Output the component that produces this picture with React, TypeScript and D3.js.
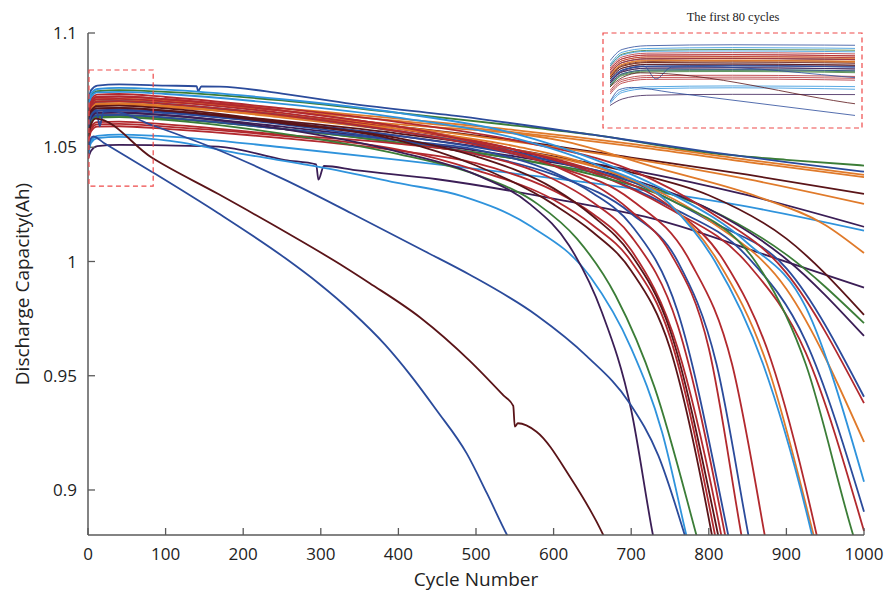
import { useEffect, useRef } from 'react'
import * as d3 from 'd3'

type Pt = [number, number]

const X_DOMAIN = [0, 1000]
const Y_DOMAIN = [0.8803, 1.1]
const X_TICKS = [0, 100, 200, 300, 400, 500, 600, 700, 800, 900, 1000]
const Y_TICKS = [0.9, 0.95, 1, 1.05, 1.1]
const Y_TICK_LABELS = ['0.9', '0.95', '1', '1.05', '1.1']
const X_TITLE = 'Cycle Number'
const Y_TITLE = 'Discharge Capacity(Ah)'

// zoomed window shown in the inset
const INSET_CYCLES = [0, 80]
const INSET_BOX_CYCLES = [0, 84]
const INSET_VALUES = [1.033, 1.0838]
const INSET_TITLE = 'The first 80 cycles'

const PALETTE: Record<string, string> = {
  navy: '#2b4b9b',
  lblue: '#2f93dc',
  green: '#3b7d37',
  orange: '#e07a2a',
  red: '#b2292e',
  maroon: '#5a1418',
  purple: '#3b1e56',
}

// [cycle, capacity], one list per cell
const CURVES: Pt[][] = [
  // long-lived cells
  [[0, 1.066], [4, 1.0725], [12, 1.0745], [40, 1.075], [100, 1.0742], [250, 1.0705], [400, 1.065], [550, 1.0595], [650, 1.0555], [800, 1.0475], [900, 1.0445], [1000, 1.042]],
  [[0, 1.069], [4, 1.075], [12, 1.077], [40, 1.0775], [100, 1.077], [140, 1.0767], [142, 1.0745], [146, 1.0766], [170, 1.0765], [250, 1.0735], [340, 1.069], [480, 1.0635], [650, 1.0555], [800, 1.048], [900, 1.0435], [1000, 1.0393]],
  [[0, 1.062], [4, 1.069], [12, 1.071], [40, 1.0712], [100, 1.0705], [250, 1.067], [400, 1.0625], [550, 1.0575], [700, 1.0515], [850, 1.0445], [1000, 1.0379]],
  [[0, 1.061], [4, 1.068], [12, 1.0702], [40, 1.0705], [100, 1.0698], [250, 1.066], [400, 1.0615], [550, 1.0565], [700, 1.0505], [850, 1.0435], [1000, 1.0369]],
  [[0, 1.06], [4, 1.0665], [12, 1.0685], [40, 1.069], [100, 1.068], [250, 1.064], [400, 1.059], [550, 1.053], [700, 1.0455], [850, 1.038], [1000, 1.0296]],
  [[0, 1.061], [4, 1.067], [12, 1.0695], [40, 1.07], [100, 1.0688], [250, 1.0645], [400, 1.059], [550, 1.0525], [700, 1.045], [850, 1.036], [1000, 1.0252]],
  [[0, 1.057], [4, 1.0635], [12, 1.066], [40, 1.0665], [100, 1.0655], [250, 1.061], [400, 1.055], [550, 1.048], [700, 1.04], [850, 1.029], [1000, 1.0152]],
  [[0, 1.047], [4, 1.053], [12, 1.055], [40, 1.0555], [100, 1.0548], [250, 1.05], [400, 1.0445], [550, 1.0385], [700, 1.032], [850, 1.024], [1000, 1.0135]],
  [[0, 1.06], [4, 1.066], [12, 1.068], [40, 1.0685], [100, 1.0675], [250, 1.064], [400, 1.06], [608, 1.053], [737, 1.0406], [866, 1.028], [950, 1.016], [1000, 1.0037]],
  [[0, 1.045], [4, 1.0485], [12, 1.0505], [40, 1.051], [100, 1.0508], [168, 1.0503], [254, 1.0444], [294, 1.0425], [297, 1.0358], [304, 1.0418], [344, 1.04], [450, 1.036], [608, 1.027], [737, 1.018], [866, 1.0037], [1000, 0.9886]],
  [[0, 1.059], [4, 1.065], [12, 1.067], [40, 1.0672], [100, 1.066], [250, 1.0615], [400, 1.056], [550, 1.049], [700, 1.039], [800, 1.029], [900, 1.01], [1000, 0.9766]],
  [[0, 1.056], [4, 1.062], [12, 1.064], [40, 1.0642], [100, 1.063], [250, 1.058], [400, 1.052], [550, 1.045], [700, 1.035], [800, 1.023], [900, 1.003], [1000, 0.973]],
  [[0, 1.057], [4, 1.063], [12, 1.065], [40, 1.0652], [100, 1.064], [250, 1.059], [400, 1.053], [550, 1.046], [700, 1.036], [800, 1.023], [900, 1.001], [1000, 0.9674]],
  [[0, 1.058], [4, 1.064], [12, 1.066], [40, 1.0662], [100, 1.065], [250, 1.0605], [400, 1.055], [550, 1.047], [700, 1.035], [800, 1.018], [900, 0.997], [1000, 0.9408]],
  [[0, 1.065], [4, 1.071], [12, 1.073], [40, 1.0733], [100, 1.072], [250, 1.067], [400, 1.061], [550, 1.053], [700, 1.04], [800, 1.022], [900, 0.995], [1000, 0.938]],
  [[0, 1.061], [4, 1.067], [12, 1.069], [40, 1.0692], [100, 1.068], [250, 1.063], [400, 1.057], [550, 1.049], [700, 1.036], [800, 1.018], [900, 0.988], [1000, 0.921]],
  [[0, 1.067], [4, 1.0735], [12, 1.0755], [40, 1.076], [100, 1.0752], [250, 1.071], [400, 1.065], [550, 1.056], [650, 1.045], [750, 1.03], [850, 1.008], [925, 0.98], [1000, 0.9036]],
  [[0, 1.062], [4, 1.068], [12, 1.07], [40, 1.0702], [100, 1.069], [250, 1.064], [400, 1.057], [550, 1.048], [650, 1.039], [750, 1.024], [850, 1.002], [925, 0.965], [1000, 0.8905]],
  [[0, 1.064], [4, 1.07], [12, 1.072], [40, 1.0722], [100, 1.071], [250, 1.066], [400, 1.059], [550, 1.049], [650, 1.039], [750, 1.023], [850, 0.999], [925, 0.96], [1000, 0.882]],
  // cells that fade before cycle 1000
  [[0, 1.055], [4, 1.0615], [12, 1.0635], [40, 1.0637], [100, 1.0625], [250, 1.058], [400, 1.052], [550, 1.045], [650, 1.038], [750, 1.027], [860, 1.0], [925, 0.955], [986, 0.8803], [1000, 0.865]],
  [[0, 1.063], [4, 1.069], [12, 1.071], [40, 1.0712], [100, 1.07], [250, 1.065], [400, 1.058], [550, 1.049], [650, 1.04], [750, 1.024], [820, 1.0], [880, 0.957], [939, 0.8803], [955, 0.855]],
  [[0, 1.061], [4, 1.067], [12, 1.069], [40, 1.0692], [100, 1.068], [250, 1.0635], [400, 1.058], [550, 1.0505], [650, 1.042], [750, 1.025], [812, 1.0], [875, 0.955], [935, 0.8803], [950, 0.86]],
  [[0, 1.066], [4, 1.072], [12, 1.074], [40, 1.0742], [100, 1.0733], [250, 1.069], [400, 1.063], [550, 1.054], [650, 1.043], [750, 1.025], [808, 1.0], [870, 0.955], [933, 0.8803], [950, 0.855]],
  [[0, 1.062], [4, 1.068], [12, 1.07], [40, 1.0702], [100, 1.069], [250, 1.064], [400, 1.057], [500, 1.051], [600, 1.042], [700, 1.027], [776, 1.0], [830, 0.955], [872, 0.8803], [885, 0.855]],
  [[0, 1.058], [4, 1.064], [12, 1.066], [40, 1.0662], [100, 1.065], [250, 1.06], [400, 1.053], [500, 1.047], [600, 1.038], [700, 1.021], [760, 1.0], [810, 0.955], [851, 0.8803], [865, 0.855]],
  [[0, 1.064], [4, 1.07], [12, 1.072], [40, 1.0722], [100, 1.071], [250, 1.066], [400, 1.059], [500, 1.052], [600, 1.042], [700, 1.022], [750, 1.004], [800, 0.962], [842, 0.8803], [855, 0.855]],
  [[0, 1.056], [4, 1.062], [12, 1.064], [40, 1.0642], [100, 1.063], [250, 1.058], [400, 1.053], [500, 1.049], [600, 1.039], [650, 1.03], [700, 1.016], [760, 0.978], [825, 0.8803], [840, 0.855]],
  [[0, 1.053], [4, 1.059], [12, 1.061], [40, 1.0612], [100, 1.06], [250, 1.0555], [400, 1.0515], [500, 1.047], [600, 1.036], [650, 1.026], [700, 1.011], [760, 0.972], [821, 0.8803], [835, 0.855]],
  [[0, 1.051], [4, 1.057], [12, 1.059], [40, 1.0592], [100, 1.058], [250, 1.054], [400, 1.0485], [500, 1.043], [600, 1.031], [650, 1.021], [700, 1.005], [760, 0.962], [816, 0.8803], [830, 0.855]],
  [[0, 1.059], [4, 1.065], [12, 1.067], [40, 1.0672], [100, 1.066], [250, 1.0605], [400, 1.054], [500, 1.046], [600, 1.032], [650, 1.02], [700, 1.003], [750, 0.97], [812, 0.8803], [830, 0.85]],
  [[0, 1.052], [4, 1.058], [12, 1.06], [40, 1.0602], [100, 1.059], [250, 1.055], [400, 1.049], [500, 1.04], [600, 1.027], [650, 1.016], [700, 1.0], [750, 0.967], [808, 0.8803], [825, 0.85]],
  [[0, 1.06], [4, 1.066], [12, 1.068], [40, 1.0682], [100, 1.067], [250, 1.061], [400, 1.053], [500, 1.042], [600, 1.025], [650, 1.013], [700, 0.996], [750, 0.962], [804, 0.8803], [820, 0.85]],
  [[0, 1.055], [4, 1.061], [12, 1.063], [40, 1.0632], [100, 1.062], [250, 1.056], [400, 1.047], [500, 1.038], [580, 1.025], [630, 1.01], [680, 0.985], [730, 0.945], [784, 0.8803], [800, 0.86]],
  [[0, 1.046], [4, 1.052], [12, 1.054], [40, 1.0545], [100, 1.053], [200, 1.047], [320, 1.04], [397, 1.0345], [483, 1.0285], [570, 1.0155], [647, 0.9934], [700, 0.962], [740, 0.925], [771, 0.8803], [785, 0.86]],
  [[0, 1.057], [4, 1.063], [12, 1.065], [40, 1.0652], [100, 1.064], [250, 1.058], [400, 1.048], [500, 1.038], [570, 1.025], [620, 1.007], [662, 0.978], [700, 0.935], [728, 0.8803], [740, 0.86]],
  // the three early fast-fading cells
  [[0, 1.058], [4, 1.064], [11, 1.0662], [15, 1.0592], [20, 1.0655], [30, 1.0658], [82, 1.0597], [168, 1.0488], [254, 1.0357], [340, 1.021], [434, 1.0045], [492, 0.9942], [578, 0.9765], [643, 0.9585], [698, 0.938], [735, 0.915], [769, 0.8803], [780, 0.868]],
  [[0, 1.055], [4, 1.06], [10, 1.0625], [82, 1.0455], [168, 1.0295], [254, 1.013], [331, 0.9975], [363, 0.9905], [428, 0.9755], [492, 0.9565], [535, 0.9415], [548, 0.9368], [550, 0.9277], [554, 0.9292], [578, 0.9255], [621, 0.9058], [664, 0.8803], [680, 0.868]],
  [[0, 1.047], [3, 1.0535], [7, 1.0547], [20, 1.052], [82, 1.0393], [168, 1.0211], [254, 1.0015], [297, 0.9905], [340, 0.978], [383, 0.9635], [415, 0.9505], [449, 0.935], [488, 0.916], [514, 0.8986], [540, 0.8803], [560, 0.868]],
]

const CURVE_COLORS = [
  'green', 'navy', 'orange', 'orange', 'maroon', 'orange', 'purple', 'lblue', 'orange', 'purple',
  'maroon', 'green', 'purple', 'navy', 'red', 'orange', 'lblue', 'navy', 'red',
  'green', 'red', 'orange', 'lblue', 'red', 'navy', 'red', 'navy', 'red', 'red', 'maroon', 'red', 'maroon',
  'green', 'lblue', 'purple',
  'navy', 'maroon', 'navy',
]

const FONT = "'Open Sans', 'Noto Sans', sans-serif"

export default function App() {
  const svgRef = useRef<SVGSVGElement>(null)

  useEffect(() => {
    const svgEl = svgRef.current
    if (!svgEl) return
    const svg = d3.select(svgEl)
    svg.selectAll('*').remove()

    const left = 88, right = 864, top = 33, bottom = 535
    const x = d3.scaleLinear().domain(X_DOMAIN).range([left, right])
    const y = d3.scaleLinear().domain(Y_DOMAIN).range([bottom, top])

    const defs = svg.append('defs')
    defs.append('clipPath').attr('id', 'plot-clip')
      .append('rect').attr('x', left).attr('y', 0).attr('width', right - left + 2).attr('height', bottom)

    const line = d3.line<Pt>()
      .x((d) => x(d[0]))
      .y((d) => y(d[1]))
      .curve(d3.curveMonotoneX)

    const g = svg.append('g').attr('clip-path', 'url(#plot-clip)')
    CURVES.forEach((pts, i) => {
      g.append('path')
        .attr('d', line(pts))
        .attr('fill', 'none')
        .attr('stroke', PALETTE[CURVE_COLORS[i]])
        .attr('stroke-width', 1.8)
        .attr('stroke-linejoin', 'round')
    })

    // axes (MATLAB style, box off, ticks inward)
    const axisColor = '#5a5a5a'
    svg.append('line')
      .attr('x1', left).attr('x2', left).attr('y1', top).attr('y2', bottom)
      .attr('stroke', axisColor).attr('stroke-width', 1.5)
    svg.append('line')
      .attr('x1', left).attr('x2', right).attr('y1', bottom).attr('y2', bottom)
      .attr('stroke', axisColor).attr('stroke-width', 1.5)

    Y_TICKS.forEach((t, i) => {
      svg.append('line')
        .attr('x1', left).attr('x2', left + 7)
        .attr('y1', y(t)).attr('y2', y(t))
        .attr('stroke', axisColor).attr('stroke-width', 1.3)
      svg.append('text')
        .attr('x', left - 11).attr('y', y(t)).attr('dy', '0.36em')
        .attr('text-anchor', 'end')
        .attr('font-family', FONT).attr('font-size', 17).attr('fill', '#222')
        .text(Y_TICK_LABELS[i])
    })

    X_TICKS.forEach((t) => {
      svg.append('line')
        .attr('x1', x(t)).attr('x2', x(t))
        .attr('y1', bottom).attr('y2', bottom - 7)
        .attr('stroke', axisColor).attr('stroke-width', 1.3)
      svg.append('text')
        .attr('x', x(t)).attr('y', 560)
        .attr('text-anchor', 'middle')
        .attr('font-family', FONT).attr('font-size', 17).attr('fill', '#222')
        .text(t)
    })

    svg.append('text')
      .attr('x', (left + right) / 2).attr('y', 586)
      .attr('text-anchor', 'middle')
      .attr('font-family', FONT).attr('font-size', 19).attr('fill', '#222')
      .text(X_TITLE)

    svg.append('text')
      .attr('transform', `translate(29,${(top + bottom) / 2}) rotate(-90)`)
      .attr('text-anchor', 'middle')
      .attr('font-family', FONT).attr('font-size', 19).attr('fill', '#222')
      .text(Y_TITLE)

    // dashed box marking the zoomed window
    const dashRed = '#ee4a4a'
    svg.append('rect')
      .attr('x', x(INSET_BOX_CYCLES[0]) + 1).attr('y', y(INSET_VALUES[1]))
      .attr('width', x(INSET_BOX_CYCLES[1]) - x(INSET_BOX_CYCLES[0]) - 1)
      .attr('height', y(INSET_VALUES[0]) - y(INSET_VALUES[1]))
      .attr('fill', 'none').attr('stroke', dashRed)
      .attr('stroke-width', 1.2).attr('stroke-dasharray', '5,3.5')

    // inset
    const ix = d3.scaleLinear().domain(INSET_CYCLES).range([610, 855])
    const iy = d3.scaleLinear().domain(INSET_VALUES).range([128, 33])
    defs.append('clipPath').attr('id', 'inset-clip')
      .append('rect').attr('x', ix(INSET_CYCLES[0])).attr('y', 34)
      .attr('width', ix(INSET_CYCLES[1]) - ix(INSET_CYCLES[0])).attr('height', 93)

    const insetLine = d3.line<Pt>()
      .x((d) => ix(d[0]))
      .y((d) => iy(d[1]))
      .curve(d3.curveMonotoneX)

    const gi = svg.append('g').attr('clip-path', 'url(#inset-clip)')
    CURVES.forEach((pts, i) => {
      gi.append('path')
        .attr('d', insetLine(pts.filter((p, k) => k === 0 || pts[k - 1][0] <= INSET_CYCLES[1] + 5)))
        .attr('fill', 'none')
        .attr('stroke', PALETTE[CURVE_COLORS[i]])
        .attr('stroke-width', 1)
        .attr('opacity', 0.8)
    })

    svg.append('rect')
      .attr('x', 603).attr('y', 33)
      .attr('width', 259).attr('height', 95)
      .attr('fill', 'none').attr('stroke', dashRed)
      .attr('stroke-width', 1.2).attr('stroke-dasharray', '5,3.5')

    svg.append('text')
      .attr('x', 733).attr('y', 21)
      .attr('text-anchor', 'middle')
      .attr('font-family', "'Liberation Serif', 'Times New Roman', serif")
      .attr('font-size', 12.5).attr('fill', '#222')
      .text(INSET_TITLE)
  }, [])

  return (
    <div style={{ position: 'absolute', left: 0, top: 0, background: '#fff' }}>
      <svg ref={svgRef} width={889} height={594} style={{ display: 'block' }} />
    </div>
  )
}
